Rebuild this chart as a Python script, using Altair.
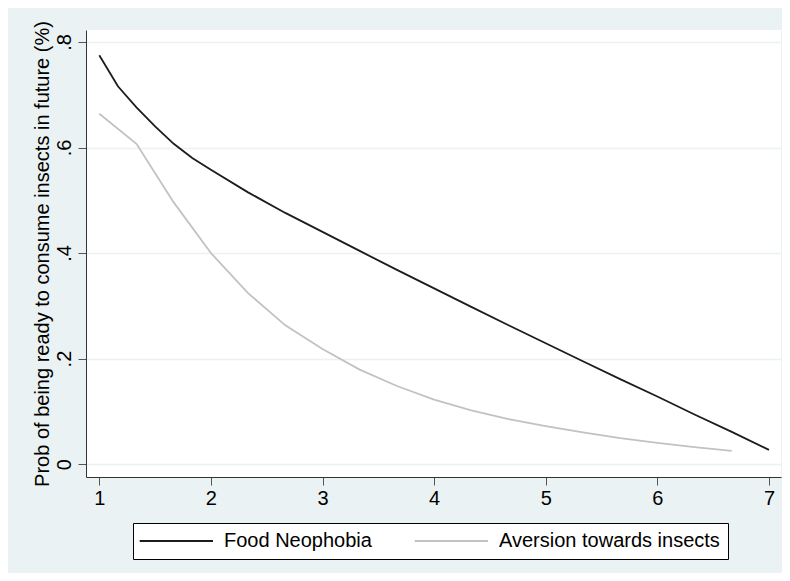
import altair as alt
import pandas as pd

series_names = ["Food Neophobia", "Aversion towards insects"]
series_colors = ["#1c1c1c", "#c2c2c2"]

neo_x = [1, 1.167, 1.333, 1.5, 1.667, 1.833, 2, 2.333, 2.667, 3, 3.333, 3.667,
         4, 4.333, 4.667, 5, 5.333, 5.667, 6, 6.333, 6.667, 7]
neo_y = [0.775, 0.716, 0.676, 0.640, 0.607, 0.580, 0.558, 0.515, 0.476, 0.440,
         0.404, 0.368, 0.333, 0.298, 0.263, 0.229, 0.195, 0.161, 0.128, 0.094,
         0.061, 0.027]

ave_x = [1, 1.333, 1.667, 2, 2.333, 2.667, 3, 3.333, 3.667, 4, 4.333, 4.667,
         5, 5.333, 5.667, 6, 6.333, 6.667]
ave_y = [0.664, 0.607, 0.496, 0.400, 0.324, 0.263, 0.218, 0.179, 0.148, 0.122,
         0.102, 0.085, 0.072, 0.060, 0.049, 0.040, 0.032, 0.025]

x_ticks = [1, 2, 3, 4, 5, 6, 7]
y_ticks = [0, 0.2, 0.4, 0.6, 0.8]

df = pd.concat([
    pd.DataFrame({"x": neo_x, "y": neo_y, "series": series_names[0], "order": 0}),
    pd.DataFrame({"x": ave_x, "y": ave_y, "series": series_names[1], "order": 1}),
])

FONT = "Liberation Sans"

chart = alt.Chart(df).mark_line(strokeWidth=1.8).encode(
    x=alt.X("x:Q",
            scale=alt.Scale(domain=[0.881, 7.108], nice=False, zero=False),
            axis=alt.Axis(values=x_ticks, format="d", title=None, grid=False,
                          tickSize=8, labelPadding=3, labelFontSize=20,
                          labelFont=FONT, labelColor="#000",
                          domainColor="#333", tickColor="#555",
                          labelFlush=False)),
    y=alt.Y("y:Q",
            scale=alt.Scale(domain=[-0.0245, 0.8227], nice=False, zero=False),
            axis=alt.Axis(values=y_ticks,
                          labelExpr="datum.value == 0 ? '0' : '.' + round(datum.value*10)",
                          title="Prob of being ready to consume insects in future (%)",
                          titleFont=FONT, titleFontSize=20, titleFontWeight="normal",
                          titleColor="#000", titleAngle=270, titleAlign="center",
                          titleBaseline="alphabetic", titleX=-38, titleY=223.5,
                          grid=True, gridColor="#EAF2F3", gridWidth=1.5,
                          tickSize=8, labelPadding=8, labelFontSize=20,
                          labelFont=FONT, labelColor="#000", labelAngle=270,
                          labelAlign="center", labelBaseline="alphabetic",
                          domainColor="#333", tickColor="#555",
                          labelFlush=False)),
    color=alt.Color("series:N",
                    scale=alt.Scale(domain=series_names, range=series_colors),
                    legend=alt.Legend(title=None, orient="none", legendX=47,
                                      legendY=493, direction="horizontal",
                                      fillColor="white", strokeColor="#000",
                                      padding=8, symbolType="M-2.26,0H12.4",
                                      symbolSize=100, symbolStrokeWidth=2,
                                      labelFontSize=20, labelFont=FONT,
                                      labelColor="#000", labelOffset=63,
                                      columnPadding=38, labelLimit=400)),
    order="order:Q",
    detail="series:N",
).properties(
    width=695, height=447,
    background="#EAF2F3",
    padding={"left": 78, "top": 22, "right": 1, "bottom": 96},
    autosize=alt.AutoSizeParams(type="none"),
).configure_view(
    fill="white", stroke=None
)

chart.save("out.html", embed_options={"renderer": "svg", "actions": False})
